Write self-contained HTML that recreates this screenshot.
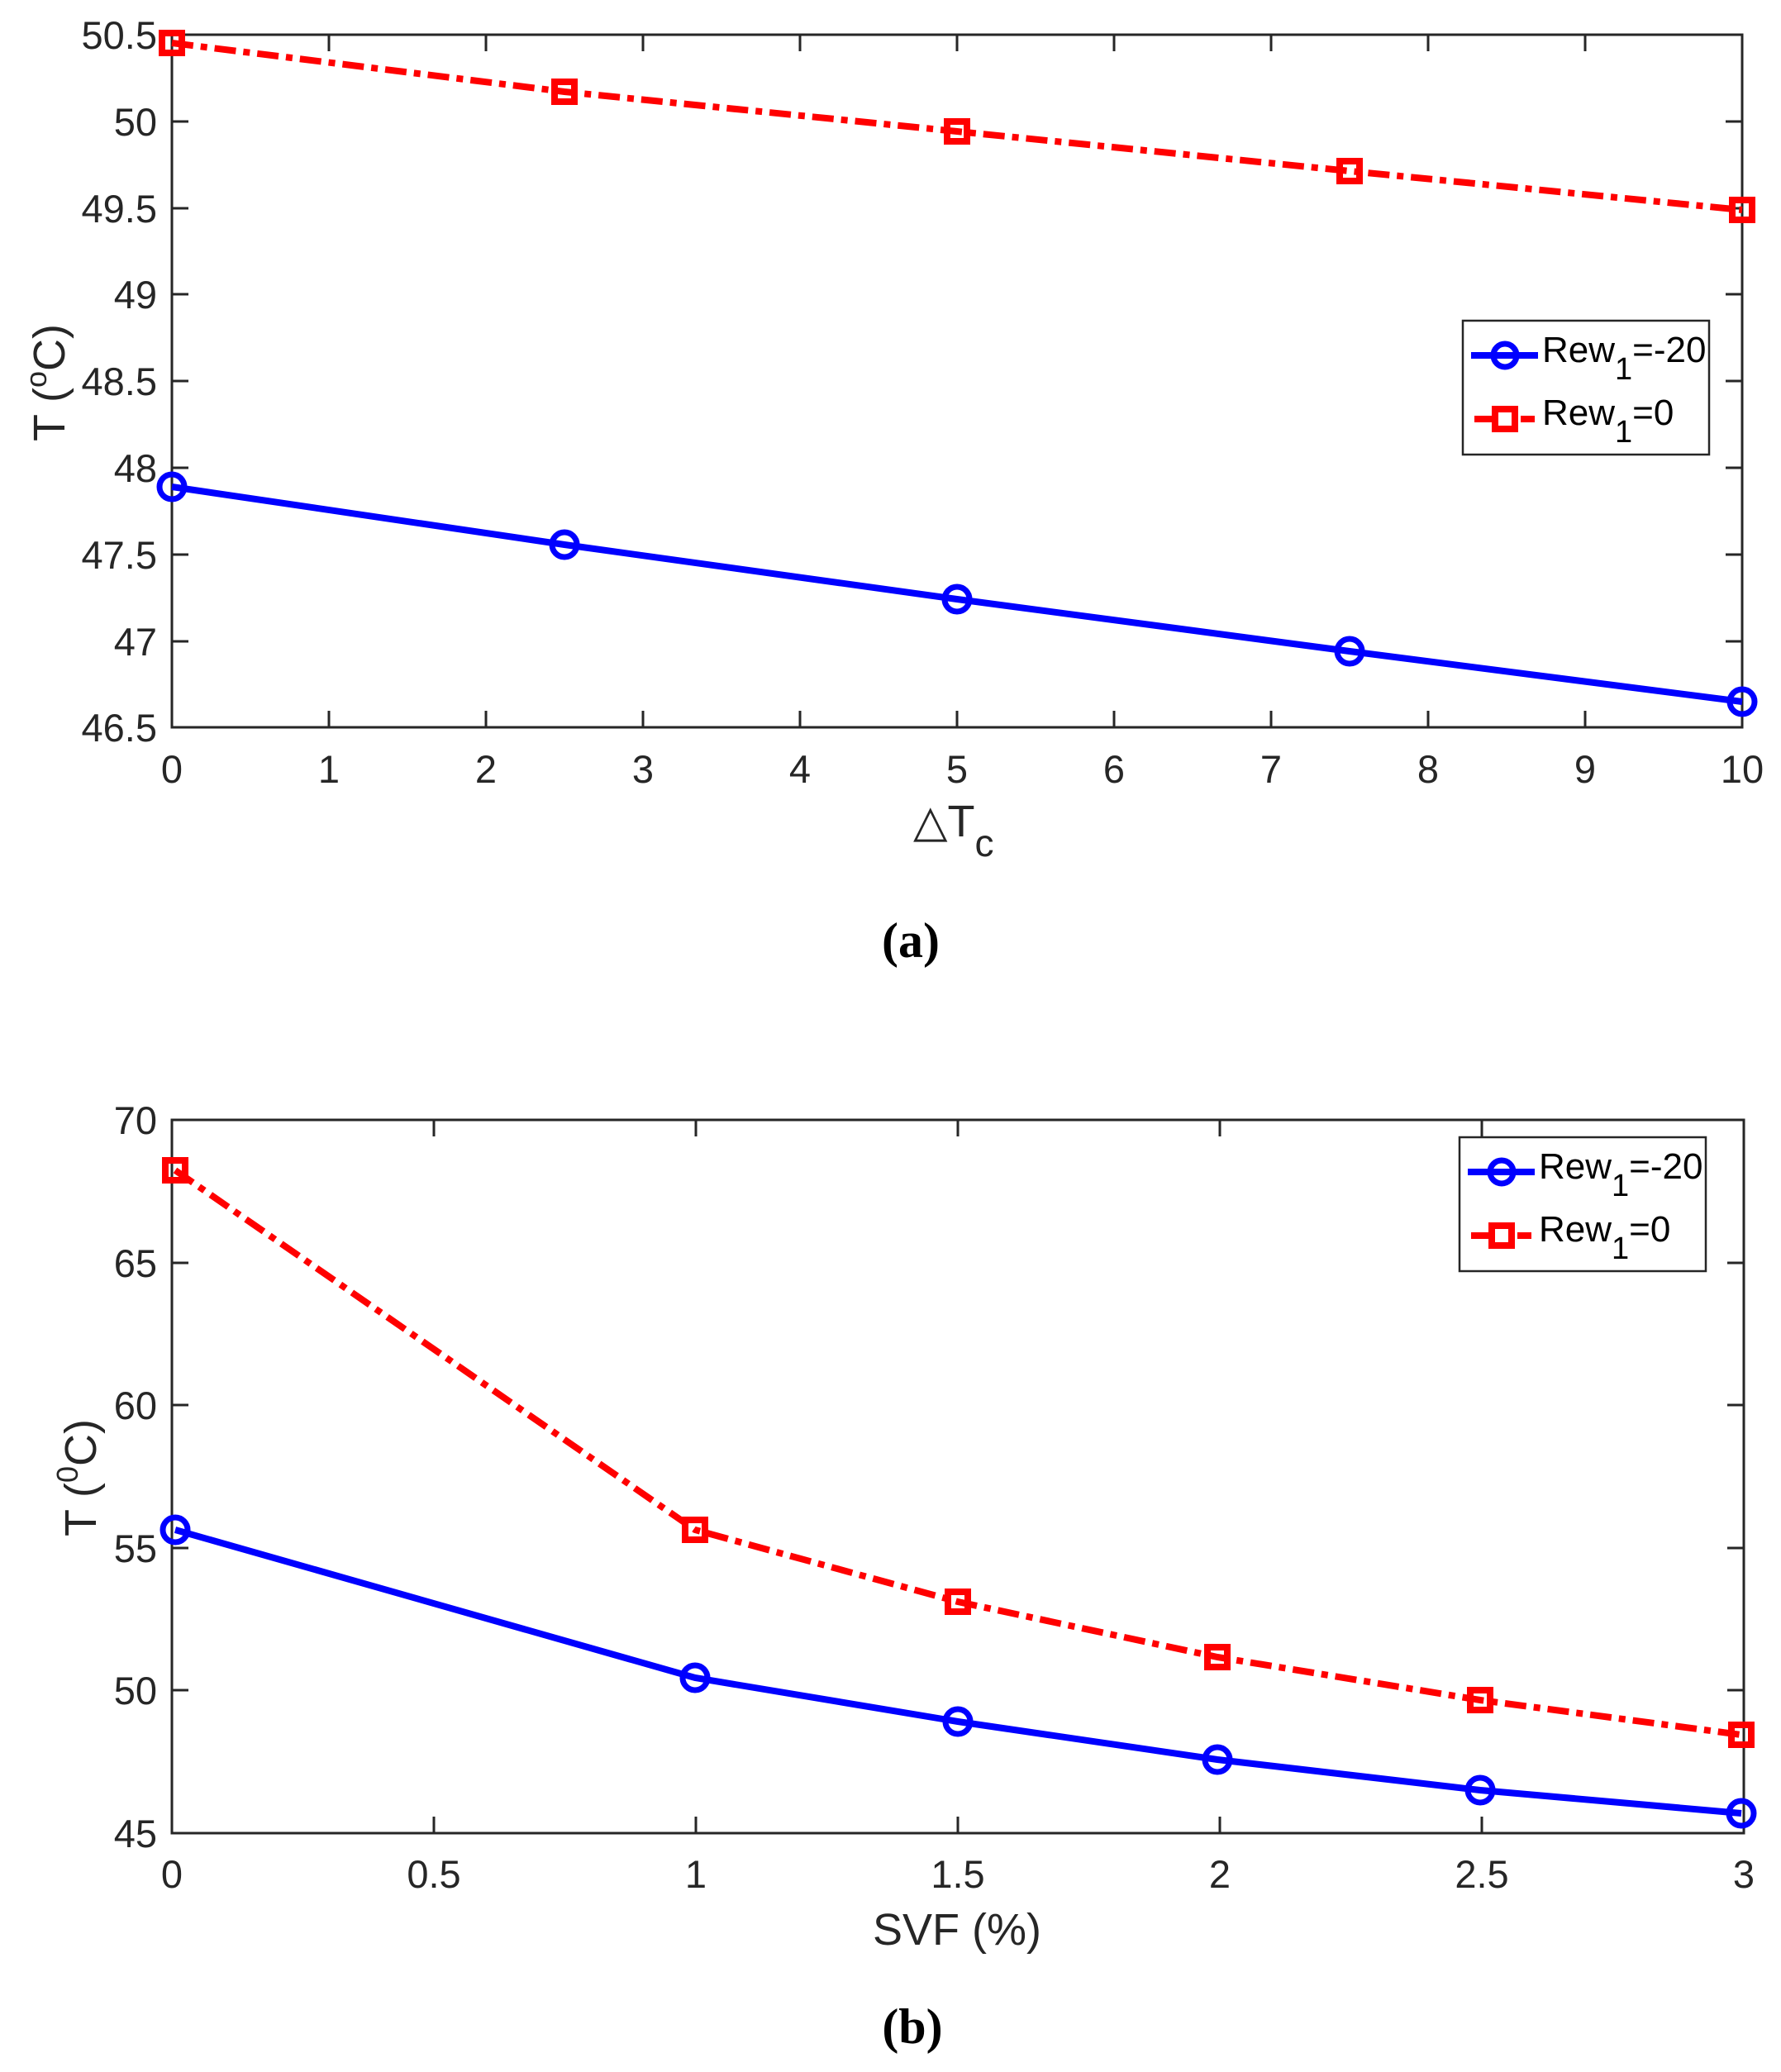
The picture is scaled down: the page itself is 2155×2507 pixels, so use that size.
<!DOCTYPE html>
<html><head><meta charset="utf-8"><style>
html,body{margin:0;padding:0;background:#fff}
svg{display:block}
text{font-family:"Liberation Sans",sans-serif;fill:#262626}
</style></head><body>
<svg width="2155" height="2507" viewBox="0 0 2155 2507" xmlns="http://www.w3.org/2000/svg">
<rect width="2155" height="2507" fill="#fff"/>
<!-- ===== Plot A ===== -->
<g stroke="#262626" stroke-width="3" fill="none">
<rect x="208" y="42" width="1900" height="838"/>
<path d="M398 880v-20M588 880v-20M778 880v-20M968 880v-20M1158 880v-20M1348 880v-20M1538 880v-20M1728 880v-20M1918 880v-20
M398 42v20M588 42v20M778 42v20M968 42v20M1158 42v20M1348 42v20M1538 42v20M1728 42v20M1918 42v20
M208 147h20M208 252h20M208 356h20M208 461h20M208 566h20M208 671h20M208 776h20
M2108 147h-20M2108 252h-20M2108 356h-20M2108 461h-20M2108 566h-20M2108 671h-20M2108 776h-20"/>
</g>
<g font-size="47" text-anchor="end">
<text x="190" y="59">50.5</text><text x="190" y="164">50</text><text x="190" y="269">49.5</text>
<text x="190" y="373">49</text><text x="190" y="478">48.5</text><text x="190" y="583">48</text>
<text x="190" y="688">47.5</text><text x="190" y="793">47</text><text x="190" y="897">46.5</text>
</g>
<g font-size="47" text-anchor="middle">
<text x="208" y="947">0</text><text x="398" y="947">1</text><text x="588" y="947">2</text><text x="778" y="947">3</text>
<text x="968" y="947">4</text><text x="1158" y="947">5</text><text x="1348" y="947">6</text><text x="1538" y="947">7</text>
<text x="1728" y="947">8</text><text x="1918" y="947">9</text><text x="2108" y="947">10</text>
</g>
<text x="1105" y="1012" font-size="54">△T<tspan font-size="46" dy="24">c</tspan></text>
<text transform="translate(78,463) rotate(-90)" font-size="54" text-anchor="middle">T (<tspan font-size="36" dy="-22">o</tspan><tspan dy="22">C)</tspan></text>
<text x="1102" y="1158" font-size="60" font-weight="bold" text-anchor="middle" style="font-family:'Liberation Serif',serif;fill:#000">(a)</text>
<polyline points="208,52 683,111 1158,159 1633,207 2108,254" fill="none" stroke="#f00" stroke-width="8" stroke-dasharray="26 9 8 9"/>
<polyline points="208,589 683,659 1158,725 1633,788 2108,849" fill="none" stroke="#00f" stroke-width="8"/>
<g fill="none" stroke="#f00" stroke-width="8">
<rect x="196" y="40" width="24" height="24"/><rect x="671" y="99" width="24" height="24"/><rect x="1146" y="147" width="24" height="24"/><rect x="1621" y="195" width="24" height="24"/><rect x="2096" y="242" width="24" height="24"/>
</g>
<g fill="none" stroke="#00f" stroke-width="7">
<circle cx="208" cy="589" r="15"/><circle cx="683" cy="659" r="15"/><circle cx="1158" cy="725" r="15"/><circle cx="1633" cy="788" r="15"/><circle cx="2108" cy="849" r="15"/>
</g>
<!-- legend A -->
<rect x="1770" y="388" width="298" height="162" fill="#fff" stroke="#262626" stroke-width="2.5"/>
<line x1="1780" y1="430" x2="1861" y2="430" stroke="#00f" stroke-width="8"/>
<circle cx="1821" cy="430" r="14" fill="none" stroke="#00f" stroke-width="7"/>
<line x1="1784" y1="507" x2="1857" y2="507" stroke="#f00" stroke-width="8" stroke-dasharray="22 10 14 10"/>
<rect x="1809" y="495" width="24" height="24" fill="#fff" stroke="#f00" stroke-width="8"/>
<text x="1866" y="438" font-size="44" style="fill:#000">Rew<tspan font-size="38" dy="21">1</tspan><tspan dy="-21">=-20</tspan></text>
<text x="1866" y="514" font-size="44" style="fill:#000">Rew<tspan font-size="38" dy="21">1</tspan><tspan dy="-21">=0</tspan></text>

<!-- ===== Plot B ===== -->
<g stroke="#262626" stroke-width="3" fill="none">
<rect x="208" y="1355" width="1902" height="863"/>
<path d="M525 2218v-20M842 2218v-20M1159 2218v-20M1476 2218v-20M1793 2218v-20
M525 1355v20M842 1355v20M1159 1355v20M1476 1355v20M1793 1355v20
M208 1528h20M208 1700h20M208 1873h20M208 2045h20
M2110 1528h-20M2110 1700h-20M2110 1873h-20M2110 2045h-20"/>
</g>
<g font-size="47" text-anchor="end">
<text x="190" y="1372">70</text><text x="190" y="1545">65</text><text x="190" y="1717">60</text>
<text x="190" y="1890">55</text><text x="190" y="2062">50</text><text x="190" y="2235">45</text>
</g>
<g font-size="47" text-anchor="middle">
<text x="208" y="2284">0</text><text x="525" y="2284">0.5</text><text x="842" y="2284">1</text><text x="1159" y="2284">1.5</text>
<text x="1476" y="2284">2</text><text x="1793" y="2284">2.5</text><text x="2110" y="2284">3</text>
</g>
<text x="1158" y="2353" font-size="54" text-anchor="middle">SVF (%)</text>
<text transform="translate(116,1788) rotate(-90)" font-size="54" text-anchor="middle">T (<tspan font-size="36" dy="-22">0</tspan><tspan dy="22">C)</tspan></text>
<text x="1104" y="2472" font-size="60" font-weight="bold" text-anchor="middle" style="font-family:'Liberation Serif',serif;fill:#000">(b)</text>
<polyline points="212,1416 841,1851 1159,1938 1473,2005 1791,2057 2107,2099" fill="none" stroke="#f00" stroke-width="8" stroke-dasharray="26 9 8 9"/>
<polyline points="212,1851 841,2030 1159,2083 1473,2129 1791,2166 2107,2194" fill="none" stroke="#00f" stroke-width="8"/>
<g fill="none" stroke="#f00" stroke-width="8">
<rect x="200" y="1404" width="24" height="24"/><rect x="829" y="1839" width="24" height="24"/><rect x="1147" y="1926" width="24" height="24"/><rect x="1461" y="1993" width="24" height="24"/><rect x="1779" y="2045" width="24" height="24"/><rect x="2095" y="2087" width="24" height="24"/>
</g>
<g fill="none" stroke="#00f" stroke-width="7">
<circle cx="212" cy="1851" r="15"/><circle cx="841" cy="2030" r="15"/><circle cx="1159" cy="2083" r="15"/><circle cx="1473" cy="2129" r="15"/><circle cx="1791" cy="2166" r="15"/><circle cx="2107" cy="2194" r="15"/>
</g>
<!-- legend B -->
<rect x="1766" y="1376" width="298" height="162" fill="#fff" stroke="#262626" stroke-width="2.5"/>
<line x1="1776" y1="1418" x2="1857" y2="1418" stroke="#00f" stroke-width="8"/>
<circle cx="1817" cy="1418" r="14" fill="none" stroke="#00f" stroke-width="7"/>
<line x1="1780" y1="1495" x2="1853" y2="1495" stroke="#f00" stroke-width="8" stroke-dasharray="22 10 14 10"/>
<rect x="1805" y="1483" width="24" height="24" fill="#fff" stroke="#f00" stroke-width="8"/>
<text x="1862" y="1426" font-size="44" style="fill:#000">Rew<tspan font-size="38" dy="21">1</tspan><tspan dy="-21">=-20</tspan></text>
<text x="1862" y="1502" font-size="44" style="fill:#000">Rew<tspan font-size="38" dy="21">1</tspan><tspan dy="-21">=0</tspan></text>
</svg>
</body></html>
